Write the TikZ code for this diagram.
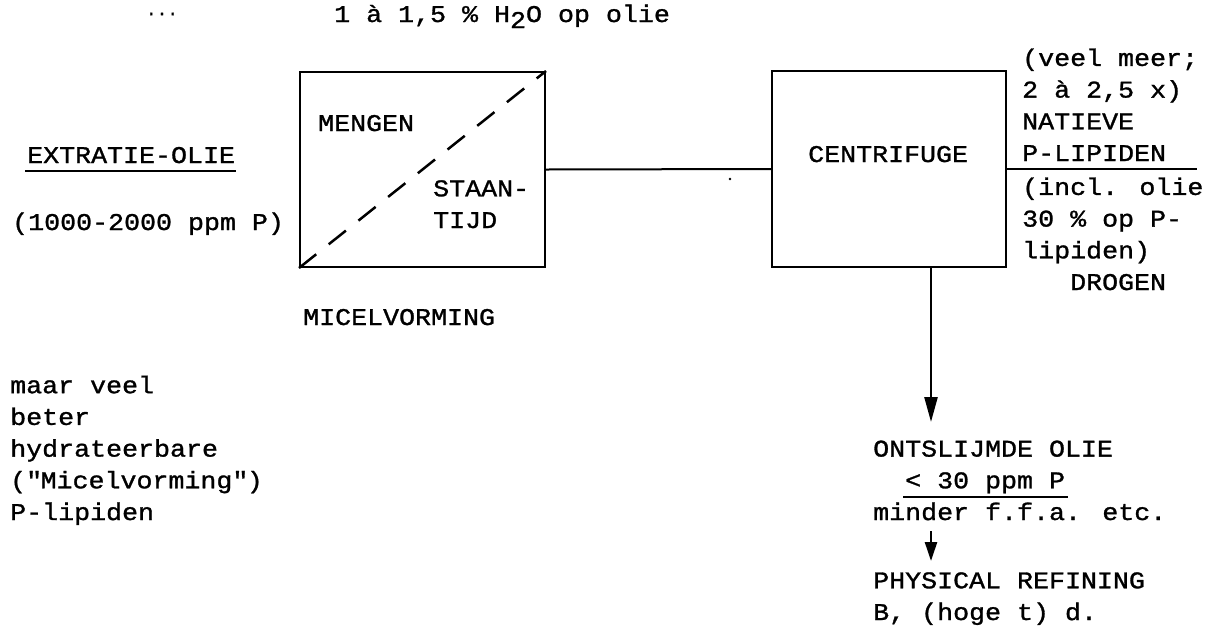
\documentclass[tikz,border=0pt]{standalone}
\usepackage{fontspec}
\setmainfont{Liberation Mono}[FakeStretch=1.11, FakeBold=1.2, Ligatures=ResetAll]
\usetikzlibrary{arrows.meta}
\newcommand\straightqd{\XeTeXglyph\XeTeXglyphindex "quotedbl"\relax}
\begin{document}
\begin{tikzpicture}[x=1pt,y=-1pt,
  txt/.style={inner sep=0pt, anchor=base west, align=left, font=\fontsize{24}{31.7}\selectfont},
  procbox/.style={draw, line width=2pt, inner sep=0pt},
  conn/.style={line width=2pt},
  bigarrow/.style={line width=2.5pt, -{Triangle[length=25pt,width=13pt]}},
  smallarrow/.style={line width=2.5pt, -{Triangle[length=19pt,width=12pt]}},
  uline/.style={line width=1.6pt}]
\useasboundingbox (0,0) rectangle (1210,625);

% dots and top label
\node[inner sep=0pt, font=\fontsize{16}{16}\selectfont] (dots) at (162,14) {...};
\node[txt] (water) at (334,22) {1 à 1,5 \% H\raisebox{-6pt}{2}O op olie};

% boxes
\node[procbox, minimum width=245pt, minimum height=195pt] (m) at (422.5,169.5) {};
\node[procbox, minimum width=234pt, minimum height=196pt] (c) at (889,169) {};
\draw[line width=2.5pt, dash pattern=on 22pt off 16pt] (m.south west) -- (m.north east);

% box texts (base = baseline of last line)
\node[txt] (mengen) at (318,131) {MENGEN};
\node[txt] (staan) at (433,228) {STAAN-\\TIJD};
\node[txt] (micel) at (303,325) {MICELVORMING};
\node[txt] (centr) at (808,162) {CENTRIFUGE};

% left texts
\node[txt] (ex) at (27,163) {EXTRATIE-OLIE};
\draw[uline] ([yshift=-8pt,xshift=-2pt]ex.base west) -- ([yshift=-8pt,xshift=1pt]ex.base east);
\node[txt] (ppm) at (12,230) {(1000-2000 ppm P)};
\node[txt] (maar) at (10,520) {maar veel\\beter\\hydrateerbare\\(\straightqd Micelvorming\straightqd)\\P-lipiden};

% connectors
\draw[conn] (m.east) -- (c.west);
\fill (730,179) circle (1.4);
\coordinate (rend) at (1197,169);
\draw[conn] (c.east) -- (rend);

% right column
\node[txt] (nat) at (1022,161) {(veel meer;\\2 à 2,5 x)\\NATIEVE\\P-LIPIDEN};
\node[txt] (incl) at (1022,290) {(incl. olie\\30 \% op P-\\lipiden)\\\ \ \ DROGEN};

% bottom right
\coordinate (tip1) at (931,422);
\draw[bigarrow] ([xshift=42pt]c.south) -- (tip1);
\node[txt] (ont) at (873,520) {ONTSLIJMDE OLIE\\\ \ < 30 ppm P\\minder f.f.a. etc.};
\draw[uline] (903,497) -- (1068,497);
\coordinate (s1) at (931,531);
\coordinate (s2) at (931,561);
\draw[smallarrow] (s1) -- (s2);
\node[txt] (phys) at (873,620) {PHYSICAL REFINING\\B, (hoge t) d.};
\end{tikzpicture}
\end{document}
